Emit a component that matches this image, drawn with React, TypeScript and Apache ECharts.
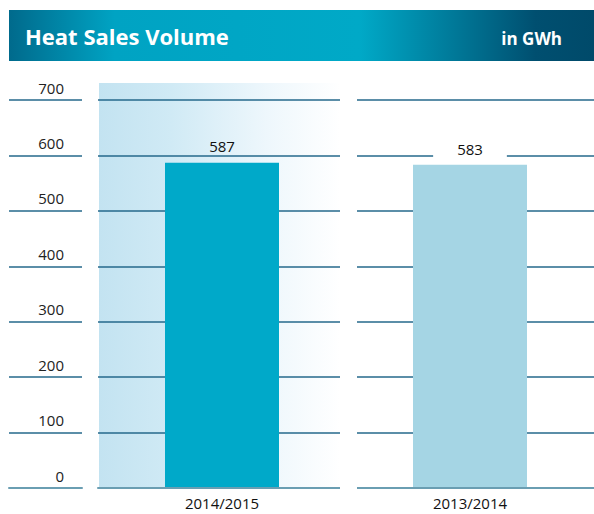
import React, { useEffect, useRef } from "react";
import * as echarts from "echarts";

const categories = ["2014/2015", "2013/2014"];
const values = [587, 583];
const yMin = 0;
const yMax = 700;
const yInterval = 100;
const barColors = ["#00a9c9", "#a5d5e4"];
const titleText = "Heat Sales Volume";
const unitText = "in GWh";

const FONT = "Open Sans";

export default function App() {
  const ref = useRef<HTMLDivElement>(null);
  useEffect(() => {
    if (!ref.current) return;
    const chart = echarts.init(ref.current, undefined, { renderer: "svg" });
    const gridLine = { show: true, lineStyle: { color: "#24698b", width: 1.5 } };
    const baseLine = { show: true, lineStyle: { color: "#6a9eb2", width: 2 } };
    const labelStyles = [
      { show: true, position: "top", distance: 9, color: "#111111", fontSize: 15, fontFamily: FONT },
      {
        show: true,
        position: "top",
        distance: 6,
        color: "#111111",
        fontSize: 15,
        fontFamily: FONT,
        backgroundColor: "#ffffff",
        padding: [2, 24],
      },
    ];
    chart.setOption({
      animation: false,
      grid: [
        { left: 9, top: 100, width: 73, bottom: 26 },
        { left: 98, top: 100, right: 0, bottom: 26 },
      ],
      xAxis: [
        {
          gridIndex: 0,
          type: "category",
          data: [""],
          axisLine: baseLine,
          axisTick: { show: false },
          axisLabel: { show: false },
          z: 3,
        },
        {
          gridIndex: 1,
          type: "category",
          data: categories,
          axisLine: baseLine,
          axisTick: { show: false },
          axisLabel: { color: "#111111", fontSize: 15, margin: 7, fontFamily: FONT },
          z: 3,
        },
      ],
      yAxis: [
        {
          gridIndex: 0,
          type: "value",
          min: yMin,
          max: yMax,
          interval: yInterval,
          position: "right",
          axisLine: { show: false },
          axisTick: { show: false },
          axisLabel: {
            inside: true,
            margin: 18,
            color: "#222222",
            fontSize: 15,
            fontFamily: FONT,
            verticalAlign: "bottom",
            padding: [0, 0, 5, 0],
          },
          splitLine: gridLine,
        },
        {
          gridIndex: 1,
          type: "value",
          min: yMin,
          max: yMax,
          interval: yInterval,
          axisLine: { show: false },
          axisTick: { show: false },
          axisLabel: { show: false },
          splitLine: gridLine,
        },
      ],
      series: [
        {
          type: "bar",
          xAxisIndex: 1,
          yAxisIndex: 1,
          barWidth: 114,
          data: values.map((v, i) => ({
            value: v,
            itemStyle: { color: barColors[i] },
            label: labelStyles[i],
          })),
        },
      ],
      graphic: [
        {
          type: "rect",
          z: -1,
          shape: { x: 99, y: 83, width: 241, height: 405 },
          style: {
            fill: new echarts.graphic.LinearGradient(0, 0, 1, 0, [
              { offset: 0, color: "#c3e3f1" },
              { offset: 0.3, color: "#d0eaf5" },
              { offset: 0.7, color: "#eef7fc" },
              { offset: 1, color: "#ffffff" },
            ]),
          },
        },
        {
          type: "rect",
          z: 10,
          shape: { x: 340, y: 84, width: 17, height: 408 },
          style: { fill: "#ffffff" },
        },
        {
          type: "rect",
          z: 5,
          shape: { x: 9, y: 10, width: 585, height: 51 },
          style: {
            fill: new echarts.graphic.LinearGradient(0, 0, 1, 0, [
              { offset: 0, color: "#006a8c" },
              { offset: 0.18, color: "#00a3c3" },
              { offset: 0.6, color: "#00a9c7" },
              { offset: 0.9, color: "#004f70" },
              { offset: 1, color: "#004a6a" },
            ]),
          },
        },
        {
          type: "text",
          z: 6,
          x: 25,
          y: 36,
          style: {
            text: titleText,
            fill: "#ffffff",
            fontSize: 22,
            fontWeight: "bold",
            fontFamily: FONT,
            align: "left",
            verticalAlign: "middle",
          },
        },
        {
          type: "text",
          z: 6,
          x: 562,
          y: 38,
          style: {
            text: unitText,
            fill: "#ffffff",
            fontSize: 17,
            fontWeight: "bold",
            fontFamily: FONT,
            align: "right",
            verticalAlign: "middle",
          },
        },
      ],
    });
    return () => chart.dispose();
  }, []);
  return (
    <div
      ref={ref}
      style={{ position: "absolute", left: 0, top: 0, width: 594, height: 514 }}
    />
  );
}
